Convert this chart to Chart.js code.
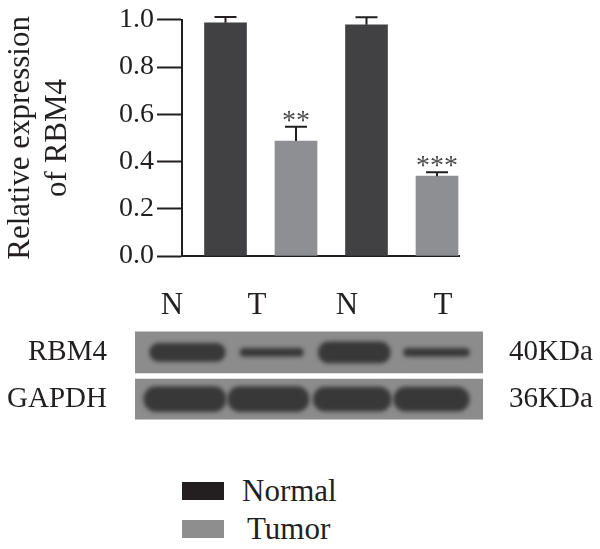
<!DOCTYPE html>
<html>
<head>
<meta charset="utf-8">
<script src="https://cdn.jsdelivr.net/npm/chart.js@4/dist/chart.umd.min.js"></script>
<style>
  html, body { margin: 0; padding: 0; background: #fff; }
  #fig { position: relative; width: 600px; height: 549px; font-family: "Liberation Serif", "Times New Roman", serif; color: #231f20; }
  #barBox { position: absolute; left: 0; top: 0; width: 600px; height: 290px; }
  #blotBox { position: absolute; left: 0; top: 290px; width: 600px; height: 170px; }
  .lane { position: absolute; top: 288px; font-size: 31px; line-height: 31px; transform: translateX(-50%); }
  .leg { position: absolute; left: 182px; width: 42px; height: 18px; }
  .legTxt { position: absolute; font-size: 31px; line-height: 31px; }
</style>
</head>
<body>
<div id="fig">
  <div id="barBox"><canvas id="bars"></canvas></div>
  <div id="blotBox"><canvas id="blot"></canvas></div>
</div>
<script>
// ---------- Data ----------
var LANES = ["N", "T", "N", "T"];
var NORMAL_POS = [1, 3];
var TUMOR_POS = [2, 4];
var NORMAL_MEAN = [0.987, 0.979];
var NORMAL_ERR = [0.025, 0.032];
var TUMOR_MEAN = [0.487, 0.338];
var TUMOR_ERR = [0.060, 0.017];
var TUMOR_STARS = ["**", "***"];
var Y_TICKS = [0, 0.2, 0.4, 0.6, 0.8, 1.0];

// western blot: band extent in lane units, band thickness = signal
var BLOT_ROWS = ["RBM4", "GAPDH"];
var BLOT_KDA = ["40KDa", "36KDa"];
var RBM4_BANDS = [[0.55, 1.46], [1.64, 2.40], [2.58, 3.45], [3.61, 4.40]];
var RBM4_SIGNAL = [18, 8, 21, 8];
var GAPDH_BANDS = [[0.48, 1.47], [1.49, 2.47], [2.52, 3.46], [3.49, 4.40]];
var GAPDH_SIGNAL = [25, 25, 24, 24];

var FONT = "'Liberation Serif', 'Times New Roman', serif";
var INK = "#231f20";
var COL_NORMAL = "#414042";
var COL_TUMOR = "#8e8f92";

Chart.defaults.animation = false;
Chart.defaults.font.family = FONT;
Chart.defaults.color = INK;

function pts(xs, ys) { return xs.map(function (x, i) { return { x: x, y: ys[i] }; }); }

// ---------- Error bars + significance stars ----------
var errPlugin = {
  id: "errbars",
  afterDatasetsDraw: function (chart) {
    var ctx = chart.ctx, ys = chart.scales.y;
    chart.data.datasets.forEach(function (ds, di) {
      var meta = chart.getDatasetMeta(di);
      meta.data.forEach(function (bar, i) {
        var top = ys.getPixelForValue(ds.data[i].y + ds.err[i]);
        ctx.save();
        ctx.strokeStyle = INK; ctx.lineWidth = 2;
        ctx.beginPath();
        ctx.moveTo(bar.x, bar.y); ctx.lineTo(bar.x, top);
        ctx.moveTo(bar.x - 11, top); ctx.lineTo(bar.x + 11, top);
        ctx.stroke();
        if (ds.stars && ds.stars[i]) {
          ctx.fillStyle = "#4a4a4a";
          ctx.font = "28px " + FONT;
          ctx.textAlign = "center";
          ctx.textBaseline = "alphabetic";
          ctx.fillText(ds.stars[i], bar.x, top + 2);
        }
        ctx.restore();
      });
    });
  }
};

new Chart(document.getElementById("bars"), {
  type: "bar",
  data: {
    datasets: [
      { label: "Normal", data: pts(NORMAL_POS, NORMAL_MEAN), err: NORMAL_ERR, backgroundColor: COL_NORMAL },
      { label: "Tumor", data: pts(TUMOR_POS, TUMOR_MEAN), err: TUMOR_ERR, stars: TUMOR_STARS, backgroundColor: COL_TUMOR }
    ]
  },
  options: {
    responsive: true, maintainAspectRatio: false,
    layout: { padding: { top: 17, right: 141, left: 0, bottom: 0 } },
    datasets: { bar: { barThickness: 42, grouped: false, borderWidth: 0 } },
    plugins: { legend: { display: false }, tooltip: { enabled: false } },
    scales: {
      x: {
        type: "linear", min: 0.383, max: 4.312, offset: false,
        grid: { display: false },
        ticks: { display: false },
        border: { display: true, color: INK, width: 2 },
        afterFit: function (s) { s.height = 34; }
      },
      y: {
        min: 0, max: 1,
        afterBuildTicks: function (s) { s.ticks = Y_TICKS.map(function (v) { return { value: v }; }); },
        ticks: { padding: 3, font: { size: 28 }, color: INK, callback: function (v) { return v.toFixed(1); } },
        grid: { drawOnChartArea: false, tickLength: 25, tickWidth: 2, tickColor: INK },
        border: { display: true, color: INK, width: 2 },
        title: { display: true, text: ["Relative expression", "of RBM4"], font: { size: 31, lineHeight: 1.2 }, color: INK, padding: { top: 2, bottom: 0 } },
        afterFit: function (s) { s.width = 182; }
      }
    }
  },
  plugins: [errPlugin]
});

// ---------- Blot (horizontal floating bars on lane scale) ----------
var blurPlugin = {
  id: "bandblur",
  beforeDatasetDraw: function (chart, args) {
    if (!chart.data.datasets[args.index].band) return;
    chart.ctx.save();
    chart.ctx.filter = "blur(2.2px)";
  },
  afterDatasetDraw: function (chart, args) {
    if (!chart.data.datasets[args.index].band) return;
    chart.ctx.restore();
  }
};

var LANE_MIN = 0.373, LANE_MAX = 4.566;
var blotSets = [];
RBM4_BANDS.forEach(function (b, i) {
  blotSets.push({ band: true, data: [b, null], barThickness: RBM4_SIGNAL[i], borderRadius: RBM4_SIGNAL[i] / 2,
    backgroundColor: "#383838", order: 0 });
});
GAPDH_BANDS.forEach(function (b, i) {
  blotSets.push({ band: true, data: [null, b], barThickness: GAPDH_SIGNAL[i], borderRadius: GAPDH_SIGNAL[i] / 2,
    backgroundColor: "#383838", order: 0 });
});
// membranes behind the bands
blotSets.push({ data: [[LANE_MIN, LANE_MAX], null], barThickness: 41, backgroundColor: "#8c8c8c", order: 1 });
blotSets.push({ data: [null, [LANE_MIN, LANE_MAX]], barThickness: 40, backgroundColor: "#8c8c8c", order: 1 });

new Chart(document.getElementById("blot"), {
  type: "bar",
  data: { labels: BLOT_ROWS, datasets: blotSets },
  options: {
    indexAxis: "y",
    responsive: true, maintainAspectRatio: false,
    layout: { padding: { top: 39, bottom: 12, left: 0, right: 0 } },
    datasets: { bar: { grouped: false, borderWidth: 0, borderSkipped: false } },
    plugins: { legend: { display: false }, tooltip: { enabled: false } },
    scales: {
      x: { type: "linear", min: LANE_MIN, max: LANE_MAX, display: false },
      y: {
        type: "category", position: "left", offset: true,
        grid: { display: false }, border: { display: false },
        ticks: { padding: 20, font: { size: 29 }, color: INK },
        afterFit: function (s) { s.width = 135; }
      },
      y2: {
        type: "category", position: "right", offset: true, labels: BLOT_KDA,
        grid: { display: false }, border: { display: false },
        ticks: { padding: 18, font: { size: 29 }, color: INK },
        afterFit: function (s) { s.width = 117; }
      }
    }
  },
  plugins: [blurPlugin]
});

// ---------- Lane labels + legend ----------
(function () {
  var fig = document.getElementById("fig");
  var LANE_X = [172, 257, 347, 443];
  LANES.forEach(function (t, i) {
    var d = document.createElement("div");
    d.className = "lane"; d.textContent = t; d.style.left = LANE_X[i] + "px";
    fig.appendChild(d);
  });
  var items = [
    { label: "Normal", color: "#231f20", top: 482, textLeft: 242 },
    { label: "Tumor", color: "#8e8e8e", top: 520, textLeft: 247 }
  ];
  items.forEach(function (it) {
    var sw = document.createElement("div");
    sw.className = "leg"; sw.style.top = it.top + "px"; sw.style.background = it.color;
    fig.appendChild(sw);
    var tx = document.createElement("div");
    tx.className = "legTxt"; tx.textContent = it.label;
    tx.style.left = it.textLeft + "px"; tx.style.top = (it.top + 9 - 16) + "px";
    fig.appendChild(tx);
  });
})();
</script>
</body>
</html>
